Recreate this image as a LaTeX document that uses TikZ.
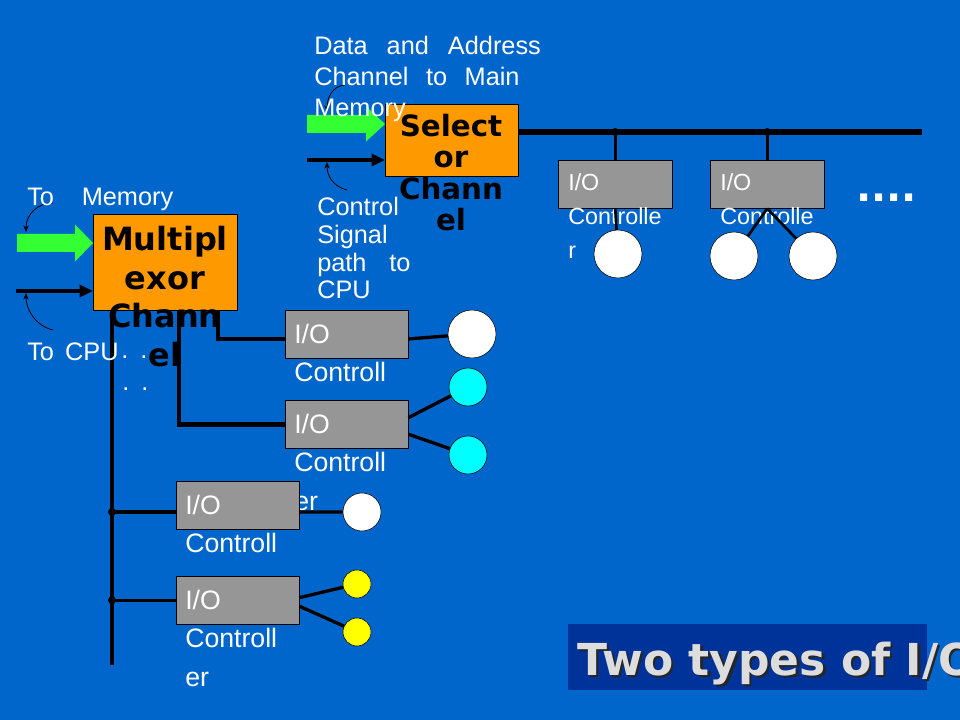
\documentclass[tikz,border=0pt]{standalone}
\usepackage{fontspec}
\setmainfont{Liberation Sans}
\newfontfamily\chanfont{DejaVu Sans}
\usetikzlibrary{arrows.meta}

\definecolor{slideblue}{RGB}{0,102,204}
\definecolor{titleblue}{RGB}{0,51,153}
\definecolor{chanorange}{RGB}{255,153,0}
\definecolor{ctrlgray}{RGB}{150,150,150}
\definecolor{arrowgreen}{RGB}{51,255,51}
\definecolor{titlegray}{RGB}{221,221,221}
\definecolor{devcyan}{RGB}{0,255,255}
\definecolor{devyellow}{RGB}{255,255,0}

\begin{document}
\begin{tikzpicture}[x=0.75pt,y=-0.75pt,
  chan/.style={draw=black,fill=chanorange,anchor=north west,inner sep=0pt},
  chantext/.style={font=\chanfont\bfseries,align=center,inner sep=0pt,anchor=north},
  iobox/.style={draw=black,fill=ctrlgray,anchor=north west,inner sep=0pt,minimum height=36pt},
  iotext/.style={text=white,align=left,inner sep=0pt,anchor=north west},
  dev/.style={circle,draw=black,fill=white,inner sep=0pt},
  lbl/.style={text=white,align=left,inner sep=0pt,anchor=north west},
  bus/.style={line width=4pt},
  trunk/.style={line width=3.5pt},
  link/.style={line width=2.5pt},
  pointer/.style={line width=0.6pt,-{Stealth[length=5pt,width=4pt]}},
  sigarrow/.style={line width=3pt,-{Triangle[length=10pt,width=9pt]}},
  joint/.style={circle,fill=black,inner sep=0pt,minimum size=6pt}
]

  \useasboundingbox (0,0) rectangle (960,720);
  \fill[slideblue] (0,0) rectangle (960,720);

  % Title
  \node[fill=titleblue,anchor=north west,inner sep=0pt,minimum width=269.25pt,minimum height=49.5pt] (titlebox) at (568,624) {};
  \node[anchor=base west,inner sep=0pt,text=black!85,font=\chanfont\bfseries\fontsize{33}{40}\selectfont] (titleshadow) at (579.5,677.5) {Two types of I/O};
  \node[anchor=base west,inner sep=0pt,text=titlegray,font=\chanfont\bfseries\fontsize{33}{40}\selectfont] (title) at (577,675) {Two types of I/O};

  % Channel boxes
  \node[chan,minimum width=99.75pt,minimum height=54pt] (sel) at (385,104) {};
  \node[chan,minimum width=108pt,minimum height=72pt] (mux) at (93,214) {};

  % Inputs to the multiplexor channel
  \coordinate (memIn) at (17,243);
  \coordinate (cpuIn) at (16,291);
  \fill[arrowgreen] (memIn) ++(0,-9) -- ++(58,0) -- ++(0,-9.5) -- (memIn -| mux.west)
    -- ++(-18,18.5) -- ++(0,-9.5) -- ++(-58,0) -- cycle;
  \draw[sigarrow] (cpuIn) -- (cpuIn -| mux.west);

  % Inputs to the selector channel
  \coordinate (dataIn) at (307,124);
  \coordinate (ctrlIn) at (307,160);
  \fill[arrowgreen] (dataIn) ++(0,-9) -- ++(59,0) -- ++(0,-8.5) -- (dataIn -| sel.west)
    -- ++(-19,17.5) -- ++(0,-8.5) -- ++(-59,0) -- cycle;
  \draw[sigarrow] (ctrlIn) -- (ctrlIn -| sel.west);

  % Pointers from the labels
  \coordinate (memFrom) at (53,203);  \coordinate (memTip) at (26,232);
  \coordinate (cpuFrom) at (53,330);  \coordinate (cpuTip) at (26,293);
  \coordinate (dataFrom) at (345,85); \coordinate (dataTip) at (327,112);
  \coordinate (ctrlFrom) at (347,190); \coordinate (ctrlTip) at (327,162);
  \draw[pointer] (memFrom) .. controls (38,203) and (26,214) .. (memTip);
  \draw[pointer] (cpuFrom) .. controls (36,326) and (26,310) .. (cpuTip);
  \draw[pointer] (dataFrom) .. controls (332,86) and (327,98) .. (dataTip);
  \draw[pointer] (ctrlFrom) .. controls (332,186) and (327,175) .. (ctrlTip);

  % Selector bus
  \coordinate (busEnd) at (922,132);
  \draw[bus] (sel.east |- busEnd) -- (busEnd);

  \node[iobox,minimum width=85.5pt] (io1) at (558,160) {};
  \node[iobox,minimum width=85.5pt] (io2) at (710,160) {};
  \node[joint] (tap1) at (io1.north |- busEnd) {};
  \node[joint] (tap2) at (io2.north |- busEnd) {};
  \draw[link] (tap1.center) -- (io1.north);
  \draw[link] (tap2.center) -- (io2.north);
  \node[iotext,font=\fontsize{17.5}{25.5}\selectfont] (io1text) at ([shift={(10,13.7)}]io1.north west) {I/O\\Controlle\\r};
  \node[iotext,font=\fontsize{17.5}{25.5}\selectfont] (io2text) at ([shift={(10,13.7)}]io2.north west) {I/O\\Controlle\\r};

  \node[dev,minimum size=36pt] (d1) at (618,254) {};
  \node[dev,minimum size=36pt] (d2) at (734,256) {};
  \node[dev,minimum size=36pt] (d3) at (813,256) {};
  \draw[line width=2pt] (io1.south) -- (d1);
  \draw[line width=2pt] (io2.south) -- (d2);
  \draw[line width=2pt] (io2.south) -- (d3);

  \node[lbl,font=\chanfont\bfseries\fontsize{30}{32}\selectfont,anchor=base west] (more) at (856,202) {....};

  % Multiplexor lines
  \coordinate (trunkEnd) at (112,665);
  \node[iobox,minimum width=92.25pt] (ioA) at (285,310) {};
  \node[iobox,minimum width=92.25pt] (ioB) at (285,400) {};
  \draw[trunk] (mux.south -| trunkEnd) -- (trunkEnd);
  \draw[trunk] (mux.south -| 218,0) |- ([yshift=-3.5pt]ioA.west);
  \draw[trunk] (mux.south -| 179,0) |- (ioB.west);

  % I/O controller A
  \node[iobox,minimum width=92.25pt] (ioA) at (285,310) {};
  \node[iotext,font=\fontsize{20}{29}\selectfont] (ioAtext) at ([shift={(9,13.5)}]ioA.north west) {I/O\\Controll\\er};
  \node[dev,minimum size=36pt] (dA) at (472,334) {};
  \draw[link] ([yshift=-3.5pt]ioA.east) -- (dA);

  % I/O controller B
  \node[iobox,minimum width=92.25pt] (ioB) at (285,400) {};
  \node[iotext,font=\fontsize{20}{29}\selectfont] (ioBtext) at ([shift={(9,13.5)}]ioB.north west) {I/O\\Controll\\er};
  \node[dev,fill=devcyan,minimum size=28.5pt] (dB1) at (468,387) {};
  \node[dev,fill=devcyan,minimum size=28.5pt] (dB2) at (468,455) {};
  \draw[link] ([yshift=5pt]ioB.east) -- (dB1);
  \draw[link] ([yshift=-7.5pt]ioB.east) -- (dB2);

  % I/O controller C
  \node[iobox,minimum width=92.25pt] (ioC) at (176,481) {};
  \node[joint] (tapC) at ([yshift=-5pt]ioC.west -| trunkEnd) {};
  \draw[link] (tapC.center) -- ([yshift=-5pt]ioC.west);
  \node[iotext,font=\fontsize{20}{29}\selectfont] (ioCtext) at ([shift={(9,13.5)}]ioC.north west) {I/O\\Controll\\er};
  \node[dev,minimum size=28.5pt] (dC) at (362,512) {};
  \draw[link] ([yshift=-5pt]ioC.east) -- (dC);

  % I/O controller D
  \node[iobox,minimum width=92.25pt] (ioD) at (176,576) {};
  \node[joint] (tapD) at (ioD.west -| trunkEnd) {};
  \draw[link] (tapD.center) -- (ioD.west);
  \node[iotext,font=\fontsize{20}{29}\selectfont] (ioDtext) at ([shift={(9,13.5)}]ioD.north west) {I/O\\Controll\\er};
  \node[dev,fill=devyellow,minimum size=21pt] (dD1) at (357,584) {};
  \node[dev,fill=devyellow,minimum size=21pt] (dD2) at (357,632) {};
  \draw[link] ([yshift=2pt]ioD.east) -- (dD1);
  \draw[link] ([yshift=-4.5pt]ioD.east) -- (dD2);

  % Channel names
  \node[chantext,font=\chanfont\bfseries\fontsize{24}{29}\selectfont] (muxtext) at (165,226) {Multipl\\exor\\Chann\\el};
  \node[chantext,font=\chanfont\bfseries\fontsize{22}{23.5}\selectfont] (seltext) at (451,114) {Select\\or\\Chann\\el};

  % Labels
  \node[lbl,font=\fontsize{19}{23.25}\selectfont] (dataLbl) at (314,36)
    {\makebox[170pt][s]{Data and Address}\\\makebox[154pt][s]{Channel to Main}\\Memory};
  \node[lbl,font=\fontsize{19}{20.8}\selectfont] (ctrlLbl) at (317,197)
    {Control\\Signal\\\makebox[70pt][s]{path to}\\CPU};
  \node[lbl,font=\fontsize{19}{21}\selectfont] (memLbl) at (27,188) {\makebox[109.5pt][s]{To Memory}};
  \node[lbl,font=\fontsize{19}{21}\selectfont] (cpuLbl) at (27,343) {\makebox[68.5pt][s]{To CPU}};
  \node[lbl,font=\fontsize{19}{21}\selectfont,anchor=base west] (dotsA) at (121,358) {.\hspace{9pt}.};
  \node[lbl,font=\fontsize{19}{21}\selectfont,anchor=base west] (dotsB) at (122,390) {.\hspace{9pt}.};

\end{tikzpicture}
\end{document}
